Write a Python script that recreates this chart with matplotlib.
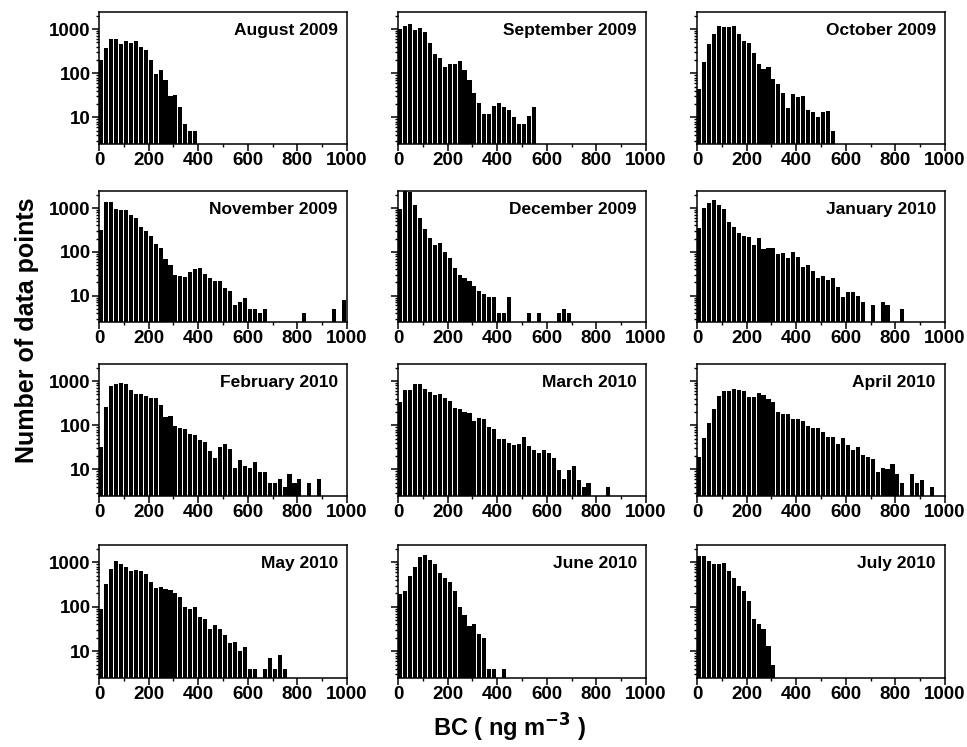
import numpy as np
import matplotlib
matplotlib.use("Agg")
import matplotlib.pyplot as plt
from matplotlib.ticker import LogLocator, FixedLocator, NullFormatter

plt.rcParams['font.family'] = ['Liberation Sans', 'DejaVu Sans']
plt.rcParams['font.weight'] = 'bold'

bin_width = 20  # ng m-3

months = ["August 2009", "September 2009", "October 2009",
          "November 2009", "December 2009", "January 2010",
          "February 2010", "March 2010", "April 2010",
          "May 2010", "June 2010", "July 2010"]

# counts per 20 ng m-3 bin, starting at 0
aug09 = [200, 365, 590, 590, 460, 545, 475, 540, 400, 335, 200, 93, 120, 70, 30, 32, 16, 6, 4, 4]
sep09 = [1000, 1190, 1300, 980, 1035, 870, 490, 272, 218, 137, 160, 160, 190, 117, 71, 35, 20, 11,
         11, 17, 20, 16, 14, 9, 6, 6, 10, 16]
oct09 = [42, 180, 450, 785, 1190, 1100, 1100, 1170, 785, 535, 485, 293, 165, 124, 140, 72, 55, 34,
         15, 33, 28, 30, 14, 12, 9, 12, 13, 4]
nov09 = [316, 1370, 1400, 950, 900, 915, 690, 580, 375, 305, 223, 152, 123, 67, 50, 28, 27, 26,
         33, 40, 41, 30, 24.5, 20.5, 20.5, 14, 12, 5, 6, 7.8, 4, 4, 3, 4, 0, 0, 0, 0, 0, 0,
         0, 3, 0, 0, 0, 0, 0, 4, 0, 7]
dec09 = [970, 2700, 2350, 1190, 580, 333, 208, 139, 160, 96, 70, 41, 28, 24, 20.5, 15.5, 11.5, 10,
         8.5, 8.5, 3.1, 3.1, 8.5, 0, 0, 0, 3, 0, 3, 0, 0, 0, 3, 4, 3]
jan10 = [345, 1000, 1320, 1520, 1170, 930, 470, 365, 270, 223, 215, 142, 208, 113, 121, 123, 86, 93,
         72, 98, 76, 45, 50, 36, 24.5, 26.5, 22, 24, 14.5, 8.1, 11, 11, 9, 6, 0, 5, 0, 6, 5.2, 0,
         0, 4]
feb10 = [31.5, 253, 785, 840, 885, 860, 625, 500, 500, 450, 420, 425, 287, 153, 161, 93, 87, 83,
         63, 60, 46, 41, 25, 17, 31, 36, 28, 9.8, 15, 11, 9.8, 14, 7.8, 7.8, 3.9, 3.9, 5, 3,
         6.8, 3.9, 5, 0, 3.9, 0, 5]
mar10 = [335, 636, 636, 855, 855, 670, 565, 490, 500, 405, 360, 245, 236, 198, 188, 122, 148, 136,
         91, 81, 49, 49, 39, 34, 36, 54, 32.5, 27, 22.5, 27, 23, 17, 8.9, 5, 8.9, 10.7, 4.9, 3,
         3.8, 0, 0, 0, 3]
apr10 = [18, 51, 114, 237, 465, 595, 605, 680, 625, 583, 442, 427, 525, 473, 398, 329, 199, 176,
         178, 140, 140, 126, 97, 88, 88, 70, 53, 53, 36, 50, 35, 26, 32, 20.5, 17.8, 15.8, 7.8,
         9.6, 9, 12.3, 6.9, 4, 0, 6.9, 4, 4.8, 0, 2.95]
may10 = [88, 318, 720, 1090, 930, 800, 636, 660, 625, 555, 353, 267, 282, 250, 232, 206, 164, 100,
         88, 97, 57, 51, 31, 37, 30, 22, 14.4, 15.2, 9.2, 11.3, 3, 3, 0, 3, 6, 3, 7.2, 3]
jun10 = [192, 228, 482, 784, 1320, 1490, 1150, 900, 583, 450, 352, 228, 98, 65, 36, 41, 24, 18.7,
         2.9, 2.9, 0, 2.9]
jul10 = [1415, 1370, 1050, 930, 930, 965, 636, 450, 288, 229, 136, 51, 41, 30, 12.3, 3.9]

series = [aug09, sep09, oct09, nov09, dec09, jan10, feb10, mar10, apr10, may10, jun10, jul10]

fig = plt.figure(figsize=(9.67, 7.47), dpi=100)
W, H = 967, 747
col_left = [99, 398, 697]
ax_w = 248
row_top = [12, 191, 364, 545]
row_bot = [144, 322, 496, 678]

for i, (name, counts) in enumerate(zip(months, series)):
    r, c = divmod(i, 3)
    ax = fig.add_axes([col_left[c] / W, 1 - row_bot[r] / H, ax_w / W, (row_bot[r] - row_top[r]) / H])
    counts = np.asarray(counts, dtype=float)
    edges = np.arange(len(counts)) * bin_width
    m = counts > 0
    ax.bar(edges[m], counts[m], width=bin_width * 0.82, align='edge', bottom=1,
           color='black', edgecolor='none')
    ax.set_yscale('log')
    ax.set_ylim(2.5, 2450)
    ax.set_xlim(0, 1000)
    ax.xaxis.set_major_locator(FixedLocator(np.arange(0, 1001, 200)))
    ax.xaxis.set_minor_locator(FixedLocator(np.arange(100, 1000, 200)))
    ax.yaxis.set_major_locator(FixedLocator([10, 100, 1000]))
    ax.yaxis.set_minor_locator(LogLocator(base=10, subs=np.arange(2, 10), numticks=20))
    ax.yaxis.set_minor_formatter(NullFormatter())
    ax.set_yticklabels(['10', '100', '1000'])
    ax.tick_params(axis='both', which='major', direction='out', length=5, width=1.1,
                   labelsize=13.5, pad=1)
    ax.tick_params(axis='both', which='minor', direction='out', length=2.5, width=1.0)
    if c != 0:
        ax.tick_params(axis='y', labelleft=False)
    for lab in ax.get_xticklabels() + ax.get_yticklabels():
        lab.set_fontweight('bold')
    for sp in ax.spines.values():
        sp.set_linewidth(1.1)
    ax.text(0.963, 0.86, name, transform=ax.transAxes, ha='right', va='center',
            fontsize=12.5, fontweight='bold')

fig.text(27 / W, 1 - 330 / H, 'Number of data points', rotation=90, ha='center', va='center',
         fontsize=18, fontweight='bold')
fig.text(510 / W, 1 - 737 / H, r'BC ( ng m$^{\mathbf{-3}}$ )', ha='center', va='baseline',
         fontsize=17, fontweight='bold')

fig.savefig('out.png', dpi=100)
